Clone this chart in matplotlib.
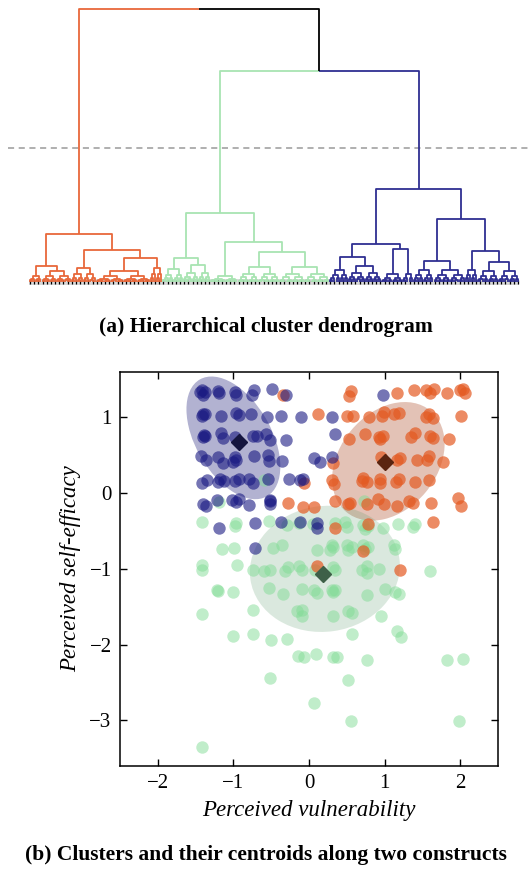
import numpy as np
import matplotlib
matplotlib.use('Agg')
import matplotlib.pyplot as plt
from matplotlib.patches import Ellipse

plt.rcParams['font.family'] = ['Liberation Serif', 'DejaVu Serif']

# ---------------- Dendrogram data (heights in linkage distance units) ----------------
# leaf groups: (n_leaves, merge_height); internal nodes: [height, left, right]
orange_tree = [48, [16, (6, 6), (14, 11)], [32, (12, 14), [24, (26, 11), (6, 14)]]]
green_tree = [69, [24, (10, 13), (13, 17)], [40, (13, 6), [30, (20, 15), (24, 15)]]]
blue_tree = [93, [38, [25, (9, 12), (16, 16)], [33, (10, 8), (5, 8)]],
             [63, [21, (10, 12), (15, 12)], [31, (6, 12), (20, 20)]]]
top_tree = [273, 'orange', [211, 'green', 'blue']]
cut_height = 134

trees = {'orange': orange_tree, 'green': green_tree, 'blue': blue_tree}
dendro_colors = {'orange': '#E8683A', 'green': '#A8E4B2', 'blue': '#2F2F92'}

# ---------------- Scatter data ----------------
blue_x = [-1.42, -1.38, -1.40, -1.44, -1.20, -1.19, -0.98, -0.97, -0.73, -0.76, -0.49, -0.30, 0.98,
          -1.40, -1.42, -1.38, -1.17, -0.96, -0.92, -0.77, -0.56, -0.375, -0.106, 0.31,
          -1.39, -1.40, -1.37, -1.17, -1.14, -0.98, -0.74, -0.69, -0.57, -0.52, -0.305, 0.35,
          -1.43, -1.36, -1.20, -1.14, -0.98, -0.96, -1.01, -0.73, -0.54, -0.53, -0.36, 0.066, 0.146, 0.309,
          -1.42, -1.35, -1.20, -1.18, -1.12, -0.98, -0.93, -0.80, -0.74, -0.54, -0.27, -0.12, -0.08,
          -1.40, -1.36, -1.22, -1.02, -0.92, -0.96, -0.79, -0.51, -0.51, -0.52,
          -1.19, -0.71, -0.37, -0.12, 0.11, 0.11, -0.715]
blue_y = [1.36, 1.33, 1.30, 1.33, 1.35, 1.32, 1.33, 1.30, 1.36, 1.30, 1.37, 1.30, 1.30,
          1.04, 1.02, 1.05, 1.02, 1.06, 1.03, 1.04, 1.01, 1.02, 1.00, 1.00,
          0.77, 0.74, 0.76, 0.79, 0.73, 0.74, 0.76, 0.76, 0.78, 0.70, 0.70, 0.78,
          0.49, 0.44, 0.48, 0.40, 0.48, 0.44, 0.41, 0.49, 0.50, 0.42, 0.42, 0.467, 0.414, 0.48,
          0.13, 0.18, 0.15, 0.19, 0.16, 0.16, 0.19, 0.19, 0.13, 0.19, 0.19, 0.17, 0.19,
          -0.14, -0.17, -0.09, -0.09, -0.08, -0.12, -0.16, -0.09, -0.14, -0.11,
          -0.46, -0.40, -0.38, -0.38, -0.39, -0.455, -0.723]

orange_x = [-0.34, 0.551, 0.534, 1.168, 1.389, 1.548, 1.60, 1.654, 1.821, 1.997, 2.04, 2.07,
            0.123, 0.498, 0.578, 0.798, 0.961, 0.992, 1.124, 1.186, 1.548, 1.592, 1.645, 2.006,
            0.529, 0.741, 0.93, 0.983, 0.94, 1.349, 1.402, 1.60, 1.636, 1.857,
            0.322, 0.948, 1.16, 1.204, 1.424, 1.565, 1.592, 1.777,
            -0.07, 0.309, 0.335, 0.70, 0.719, 0.763, 0.939, 0.939, 1.151, 1.19, 1.402, 1.587,
            -0.283, -0.084, 0.071, 0.344, 0.52, 0.542, 0.763, 0.917, 0.992, 1.16, 1.327, 1.38,
            1.61, 1.975, 2.006,
            1.636, 0.344, 0.785, 0.719, 0.11, 1.204]
orange_y = [1.30, 1.35, 1.28, 1.32, 1.36, 1.36, 1.32, 1.375, 1.32, 1.36, 1.38, 1.32,
            1.05, 1.022, 1.022, 1.01, 1.018, 1.075, 1.04, 1.06, 1.009, 1.04, 0.987, 1.022,
            0.714, 0.776, 0.745, 0.758, 0.72, 0.745, 0.789, 0.758, 0.723, 0.714,
            0.40, 0.48, 0.436, 0.458, 0.436, 0.436, 0.493, 0.414,
            0.14, 0.17, 0.127, 0.16, 0.202, 0.149, 0.14, 0.193, 0.149, 0.193, 0.149, 0.167,
            -0.13, -0.18, -0.18, -0.106, -0.137, -0.128, -0.137, -0.084, -0.137, -0.168, -0.106, -0.128,
            -0.124, -0.07, -0.168,
            -0.38, -0.455, -0.41, -0.763, -0.966, -1.01]

green_x = [-1.19, -0.60, 0.728,
           -1.41, -0.96, -0.98, -0.525, -0.296, -0.128, 0.048, 0.344, 0.476, 0.498, 0.719, 0.785,
           0.741, 0.975, 1.182, 1.38, 1.402,
           -1.156, -0.988, -0.481, -0.358, 0.11, 0.30, 0.278, 0.322, 0.498, 0.52, 0.565, 0.719,
           0.741, 0.785, 1.124, 1.138,
           -1.42, -1.42, -0.948, -0.746, -0.596, -0.516, -0.318, -0.274, -0.128, -0.097, 0.079,
           0.322, 0.344, 0.697, 0.763, 0.763, 0.926, 1.601,
           -1.213, -1.20, -1.001, -0.525, -0.34, -0.097, 0.07, 0.10, 0.30, 0.322, 0.344, 0.763,
           1.005, 1.138, 1.19,
           -1.41, -0.737, -0.164, -0.097, -0.09, 0.322, 0.52, 0.565, 0.952,
           -1.001, -0.737, -0.507, -0.296, 0.573, 1.16, 1.217,
           -0.142, -0.067, 0.092, 0.322, 0.366, 0.772, 1.821, 2.041,
           -0.516, 0.52, 0.066, 0.551, 1.984, -1.41]
green_y = [-0.115, 0.18, -0.106,
           -0.38, -0.40, -0.43, -0.37, -0.424, -0.40, -0.41, -0.393, -0.38, -0.446, -0.424, -0.437,
           -0.468, -0.455, -0.402, -0.446, -0.41,
           -0.732, -0.723, -0.723, -0.68, -0.754, -0.688, -0.754, -0.71, -0.688, -0.754, -0.71, -0.688,
           -0.732, -0.71, -0.688, -0.732,
           -0.953, -1.019, -0.953, -1.019, -1.028, -1.019, -1.028, -0.975, -0.966, -1.019, -1.019,
           -0.975, -1.019, -1.01, -0.966, -1.054, -0.997, -1.032,
           -1.275, -1.29, -1.306, -1.248, -1.336, -1.261, -1.275, -1.32, -1.283, -1.306, -1.275, -1.35,
           -1.261, -1.306, -1.328,
           -1.592, -1.539, -1.557, -1.548, -1.62, -1.627, -1.561, -1.583, -1.627,
           -1.892, -1.866, -1.936, -1.923, -1.857, -1.826, -1.90,
           -2.152, -2.165, -2.121, -2.165, -2.165, -2.2, -2.2, -2.187,
           -2.443, -2.474, -2.77, -3.016, -3.016, -3.356]

# cluster centroids and covariance ellipses (center, width, height, angle)
centroids = {'blue': (-0.92, 0.68), 'orange': (1.01, 0.405), 'green': (0.19, -1.07)}
ellipses = {'blue': ((-1.0, 0.73), 1.78, 1.0, -60),
            'orange': ((1.05, 0.42), 1.74, 1.28, 50),
            'green': ((0.21, -1.0), 1.99, 1.66, 8)}

point_colors = {'blue': '#191982', 'orange': '#E45A22', 'green': '#82DC96'}
point_alpha = {'blue': 0.6, 'orange': 0.7, 'green': 0.5}
ellipse_colors = {'blue': ('#2A2A80', 0.36), 'orange': ('#A8441C', 0.32), 'green': ('#5A9A6A', 0.22)}
centroid_colors = {'blue': '#15153F', 'orange': '#5A2410', 'green': '#3E6048'}

xticks = [-2, -1, 0, 1, 2]
yticks = [-3, -2, -1, 0, 1]

W, H = 531, 872
fig = plt.figure(figsize=(W / 100, H / 100), dpi=100)


# ---------------- Dendrogram ----------------
def expand(n, h):
    if n == 1:
        return None
    a = (n + 1) // 2
    b = n - a
    hc = h * 0.55
    return [h, expand(a, hc) if a > 1 else None, expand(b, hc) if b > 1 else None]


segments = []
counter = [0]


def layout(node, col):
    if node is None:
        x = counter[0]
        counter[0] += 1
        return x, 0.0, col
    if isinstance(node, str):
        return layout(trees[node], dendro_colors[node])
    if isinstance(node, tuple):
        return layout(expand(*node), col)
    h, L, R = node
    xl, hl, cl = layout(L, col)
    xr, hr, cr = layout(R, col)
    xm = (xl + xr) / 2
    segments.append(([xl, xl, xm], [hl, h, h], cl))
    segments.append(([xm, xr, xr], [h, h, hr], cr))
    return xm, h, (col if col else 'black')


layout(top_tree, None)
N = counter[0]

spacing = 488 / (N - 1)
axd = fig.add_axes([0, 1 - 300 / H, 1, 300 / H])
axd.set_xlim(-30 / spacing, (W - 30) / spacing)
axd.set_ylim(-18, 282)
axd.axis('off')
for xs, ys, c in segments:
    axd.plot(xs, ys, color=c, lw=1.3, solid_capstyle='butt', zorder=3)
leaf_x = np.arange(N)
axd.fill_between([-0.5, N - 0.5], -3, 3, color='#D9D9D9', lw=0, zorder=1)
axd.plot(leaf_x[::2], np.full(len(leaf_x[::2]), 0.0), ls='none', marker='|', ms=3.0, mew=0.9,
         color='black', zorder=2)
axd.axhline(cut_height, xmin=8 / W, xmax=1, color='#9A9A9A', lw=1.1, dashes=(4, 3), zorder=0)

fig.text(0.5, 1 - 327 / H, '(a) Hierarchical cluster dendrogram', ha='center', va='center',
         fontsize=15.5, fontweight='bold')

# ---------------- Scatter ----------------
ax = fig.add_axes([120 / W, 1 - 765.7 / H, 378 / W, 393.7 / H])
for name in ['blue', 'orange', 'green']:
    (cx, cy), w, h, ang = ellipses[name]
    col, al = ellipse_colors[name]
    ax.add_patch(Ellipse((cx, cy), w, h, angle=ang, facecolor=col, alpha=al, lw=0, zorder=1))

data = {'green': (green_x, green_y), 'orange': (orange_x, orange_y), 'blue': (blue_x, blue_y)}
for name in ['green', 'orange', 'blue']:
    xs, ys = data[name]
    ax.scatter(xs, ys, s=80, color=point_colors[name], alpha=point_alpha[name], lw=0, zorder=2)
for name in ['blue', 'orange', 'green']:
    cx, cy = centroids[name]
    ax.plot([cx], [cy], marker='D', ms=8, color=centroid_colors[name], ls='none', zorder=4)

ax.set_xlim(-2.5, 2.5)
ax.set_ylim(-3.6, 1.6)
ax.set_xticks(xticks)
ax.set_yticks(yticks)
ax.set_xticklabels(['\u2212%d' % -t if t < 0 else '%d' % t for t in xticks])
ax.set_yticklabels(['\u2212%d' % -t if t < 0 else '%d' % t for t in yticks])
ax.tick_params(direction='in', length=5, width=1.0, top=True, right=True, labelsize=15, pad=6)
for sp in ax.spines.values():
    sp.set_linewidth(1.1)
ax.set_xlabel('Perceived vulnerability', fontsize=16.5, style='italic', labelpad=5)
ax.set_ylabel('Perceived self-efficacy', fontsize=16.5, style='italic', labelpad=6)

fig.text(0.5, 1 - 855 / H, '(b) Clusters and their centroids along two constructs', ha='center',
         va='center', fontsize=15.5, fontweight='bold')

fig.savefig('out.png', dpi=100)
